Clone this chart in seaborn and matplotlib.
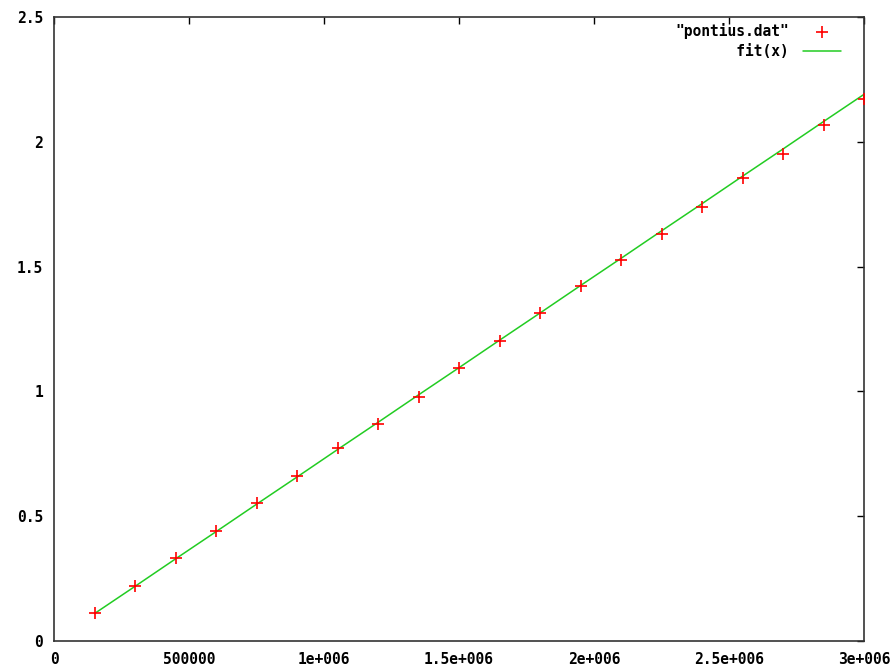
import matplotlib
matplotlib.use("Agg")
import matplotlib.pyplot as plt
import seaborn as sns
import pandas as pd

x_vals = [150000, 300000, 450000, 600000, 750000, 900000, 1050000, 1200000, 1350000, 1500000,
          1650000, 1800000, 1950000, 2100000, 2250000, 2400000, 2550000, 2700000, 2850000, 3000000]
y_data = [0.112, 0.220, 0.333, 0.440, 0.553, 0.661, 0.773, 0.869, 0.978, 1.094,
          1.202, 1.314, 1.422, 1.526, 1.631, 1.739, 1.855, 1.951, 2.067, 2.171]
y_fit = [0.110, 0.219, 0.329, 0.438, 0.548, 0.657, 0.767, 0.876, 0.986, 1.095,
         1.205, 1.314, 1.424, 1.533, 1.643, 1.752, 1.862, 1.971, 2.081, 2.190]
x_ticks = [0, 500000, 1000000, 1500000, 2000000, 2500000, 3000000]
x_ticklabels = ["0", "500000", "1e+006", "1.5e+006", "2e+006", "2.5e+006", "3e+006"]
y_ticks = [0, 0.5, 1, 1.5, 2, 2.5]
y_ticklabels = ["0", "0.5", "1", "1.5", "2", "2.5"]
label_data = '"pontius.dat"'
label_fit = 'fit(x)'

df = pd.DataFrame({"x": x_vals, "data": y_data, "fit": y_fit})

sns.set_theme(style="white")
plt.rcParams["font.family"] = ["DejaVu Sans Mono"]
plt.rcParams["font.weight"] = "bold"
plt.rcParams["text.color"] = "black"

fig = plt.figure(figsize=(8.96, 6.68), dpi=100)
ax = fig.add_axes([0.0603, 0.0404, 0.9040, 0.9342])

sns.lineplot(data=df, x="x", y="fit", ax=ax, color="#22cc22", linewidth=1.1,
             label=label_fit.rjust(len(label_data)), zorder=2)
sns.scatterplot(data=df, x="x", y="data", ax=ax, marker="+", color="#ff0000",
                s=70, linewidth=1.2, label=label_data, zorder=3)

ax.set_xlim(0, 3000000)
ax.set_ylim(0, 2.5)
ax.set_xticks(x_ticks)
ax.set_xticklabels(x_ticklabels)
ax.set_yticks(y_ticks)
ax.set_yticklabels(y_ticklabels)
ax.set_xlabel("")
ax.set_ylabel("")
ax.tick_params(direction="in", length=5, width=1, top=True, right=True,
               labelsize=10.5, colors="black", pad=8)
for lab in ax.get_xticklabels() + ax.get_yticklabels():
    lab.set_fontweight("bold")
for sp in ax.spines.values():
    sp.set_color("#333333")
    sp.set_linewidth(1.2)

handles, labels = ax.get_legend_handles_labels()
order = [labels.index(label_data), labels.index(label_fit.rjust(len(label_data)))]
leg = ax.legend([handles[i] for i in order], [labels[i] for i in order],
                loc="upper right", bbox_to_anchor=(0.988, 1.012), frameon=False,
                markerfirst=False, handlelength=2.6, handletextpad=1.0,
                labelspacing=0.35, prop={"family": "DejaVu Sans Mono", "weight": "bold", "size": 10.5})
for t in leg.get_texts():
    t.set_color("black")

fig.savefig("out.png", dpi=100)
